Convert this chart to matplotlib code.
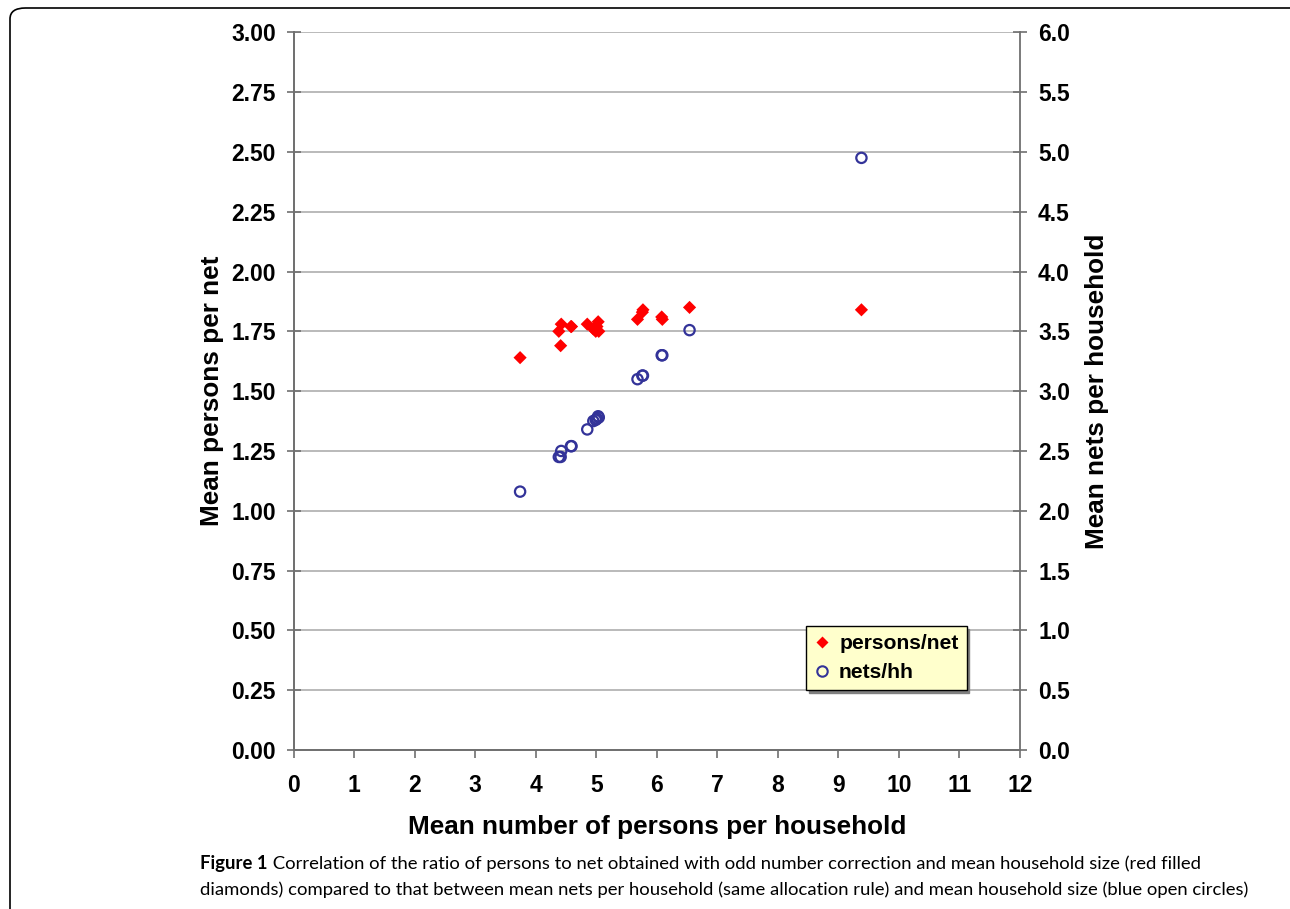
import matplotlib.pyplot as plt
from matplotlib.patches import FancyBboxPatch
from matplotlib.lines import Line2D
import numpy as np

# mean household size per survey cluster
hh_size = [3.74, 4.38, 4.41, 4.42, 4.58, 4.59, 4.85, 4.95, 4.99, 5.01,
           5.03, 5.04, 5.68, 5.76, 5.77, 6.08, 6.09, 6.54, 9.38]
# persons per net (left axis)
persons_net = [1.64, 1.75, 1.69, 1.78, 1.77, 1.77, 1.78, 1.76, 1.75, 1.77,
               1.79, 1.75, 1.80, 1.83, 1.84, 1.81, 1.80, 1.85, 1.84]
# nets per household (right axis)
nets_hh = [2.16, 2.45, 2.45, 2.50, 2.54, 2.54, 2.68, 2.75, 2.76, 2.77,
           2.79, 2.78, 3.10, 3.13, 3.13, 3.30, 3.30, 3.51, 4.95]

caption_bold = "Figure 1"
caption_1 = (" Correlation of the ratio of persons to net obtained with odd number "
             "correction and mean household size (red filled")
caption_2 = ("diamonds) compared to that between mean nets per household (same "
             "allocation rule) and mean household size (blue open circles)")

plt.rcParams['font.family'] = ['Liberation Sans', 'DejaVu Sans']
spine_col = '#707070'

fig = plt.figure(figsize=(12.9, 9.09), dpi=100)

# frame of the journal figure
frame = FancyBboxPatch((10 / 1290, -0.05), 1.2, 1.05 - 8 / 909,
                       boxstyle='round,pad=0,rounding_size=0.012',
                       transform=fig.transFigure, fill=False,
                       edgecolor='black', linewidth=1.2)
fig.patches.append(frame)

ax = fig.add_axes([0.2277, 0.1749, 0.5630, 0.7896])
ax2 = ax.twinx()

ax.set_xlim(0, 12)
ax.set_ylim(0, 3)
ax2.set_ylim(0, 6)
ax.set_xticks(np.arange(0, 13, 1))
ax.set_yticks(np.arange(0, 3.01, 0.25))
ax2.set_yticks(np.arange(0, 6.01, 0.5))
ax.set_yticklabels(['%.2f' % v for v in np.arange(0, 3.01, 0.25)])
ax2.set_yticklabels(['%.1f' % v for v in np.arange(0, 6.01, 0.5)])

ax.yaxis.grid(True, color='#b4b4b4', linewidth=1.3)
ax.set_axisbelow(True)

for a in (ax, ax2):
    a.spines['top'].set_visible(False)
    for s in ('left', 'right', 'bottom'):
        a.spines[s].set_color(spine_col)
        a.spines[s].set_linewidth(1.3)
ax.spines['right'].set_visible(False)

tick_fs = 16.5
ax.tick_params(axis='y', direction='inout', length=10, width=1.2, color=spine_col,
               labelsize=tick_fs, pad=8)
ax2.tick_params(axis='y', direction='inout', length=10, width=1.2, color=spine_col,
                labelsize=tick_fs, pad=8)
ax.tick_params(axis='x', direction='out', length=6, width=1.2, color=spine_col,
               labelsize=tick_fs, pad=11)
for lab in ax.get_xticklabels() + ax.get_yticklabels() + ax2.get_yticklabels():
    lab.set_fontweight('bold')

ax.scatter(hh_size, persons_net, marker='D', s=45, color='#ff0000',
           edgecolors='none', zorder=3)
ax2.scatter(hh_size, nets_hh, marker='o', s=55, facecolors='none',
            edgecolors='#333399', linewidths=1.6, zorder=3)

lab_fs = 18.8
ax.set_xlabel('Mean number of persons per household', fontsize=lab_fs,
              fontweight='bold', labelpad=13)
ax.set_ylabel('Mean persons per net', fontsize=lab_fs, fontweight='bold', labelpad=5)
ax2.set_ylabel('Mean nets per household', fontsize=lab_fs, fontweight='bold', labelpad=11)

handles = [Line2D([], [], linestyle='none', marker='D', markersize=6.5,
                  color='#ff0000', markeredgecolor='none'),
           Line2D([], [], linestyle='none', marker='o', markersize=7.5,
                  markerfacecolor='none', markeredgecolor='#333399',
                  markeredgewidth=1.5)]
leg = ax2.legend(handles, ['persons/net', 'nets/hh'], loc='lower left',
                 bbox_to_anchor=(0.705, 0.0836), borderaxespad=0,
                 frameon=True, fancybox=False, shadow={'color': '#808080', 'alpha': 1},
                 prop={'weight': 'bold', 'size': 15.2}, handlelength=0.8,
                 handletextpad=0.4, borderpad=0.38, labelspacing=0.45)
leg.get_frame().set_facecolor('#ffffcc')
leg.get_frame().set_edgecolor('black')
leg.get_frame().set_linewidth(1.0)
leg.get_frame().set_alpha(1)

cap_font = ['Lato', 'Liberation Sans', 'DejaVu Sans']
cap_fs = 13.3
t = fig.text(200 / 1290, 1 - 864 / 909, caption_bold, fontsize=cap_fs,
             fontweight='bold', family=cap_font, va='center')
fig.canvas.draw()
bb = t.get_window_extent()
fig.text(bb.x1 / 1290, 1 - 864 / 909, caption_1, fontsize=cap_fs, family=cap_font,
         va='center')
fig.text(200 / 1290, 1 - 890 / 909, caption_2, fontsize=cap_fs, family=cap_font,
         va='center')

fig.savefig('out.png', dpi=100)
